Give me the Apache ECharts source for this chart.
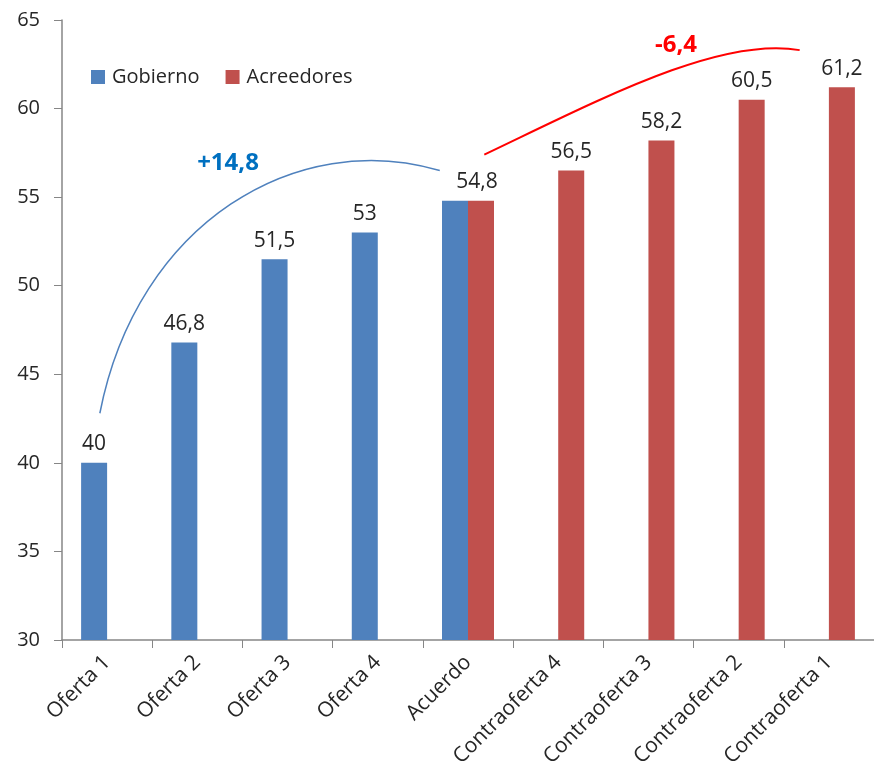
<!DOCTYPE html>
<html><head><meta charset="utf-8">
<script src="https://cdn.jsdelivr.net/npm/echarts@6/dist/echarts.min.js"></script>
<style>html,body{margin:0;padding:0;background:#fff}#c{width:874px;height:778px}</style>
</head><body><div id="c"></div>
<script>
const categories = ['Oferta 1','Oferta 2','Oferta 3','Oferta 4','Acuerdo','Contraoferta 4','Contraoferta 3','Contraoferta 2','Contraoferta 1'];
const gobierno = [40, 46.8, 51.5, 53, 54.8, null, null, null, null];
const acreedores = [null, null, null, null, 54.8, 56.5, 58.2, 60.5, 61.2];
const yTicks = {min: 30, max: 65, interval: 5};
const annotations = [
  {text: '+14,8', color: '#0070C0', cat: 1.33, val: 56.9},
  {text: '-6,4', color: '#FF0000', cat: 6.26, val: 63.6}
];

const FONT = '"Open Sans", sans-serif';
const chart = echarts.init(document.getElementById('c'));
const fmt = p => p.value == null ? '' : String(p.value).replace('.', ',');
const labelCfg = {show: true, position: 'top', distance: 8, formatter: fmt, fontSize: 21, color: '#262626', fontFamily: FONT};

chart.setOption({
  animation: false,
  backgroundColor: '#fff',
  grid: {left: 62, top: 20, width: 818, height: 620},
  legend: {
    left: 86, top: 62, itemWidth: 14, itemHeight: 14, itemGap: 26,
    icon: 'rect',
    textStyle: {fontSize: 20, color: '#262626', fontFamily: FONT, padding: [0, 0, 0, 2]},
    data: ['Gobierno', 'Acreedores']
  },
  xAxis: {
    type: 'category', data: categories,
    axisLine: {lineStyle: {color: '#868686', width: 1.5}},
    axisTick: {show: true, length: 8, lineStyle: {color: '#868686'}},
    axisLabel: {rotate: 45, fontSize: 21, color: '#262626', margin: 19, fontFamily: FONT, interval: 0}
  },
  yAxis: {
    type: 'value', min: yTicks.min, max: yTicks.max, interval: yTicks.interval,
    axisLine: {show: true, lineStyle: {color: '#868686', width: 1.5}},
    axisTick: {show: true, length: 8, inside: false, lineStyle: {color: '#868686'}},
    splitLine: {show: false},
    axisLabel: {fontSize: 20, color: '#262626', margin: 22, fontFamily: FONT}
  },
  series: [
    {name: 'Gobierno', type: 'bar', data: gobierno.map((v, i) => i === 4 ? {value: v, label: {show: false}} : v),
     barWidth: 26, barGap: '0%', itemStyle: {color: '#4F81BD'}, label: labelCfg},
    {name: 'Acreedores', type: 'bar', data: acreedores.map((v, i) => i === 4 ? {value: v, label: {offset: [-4, 0]}} : v),
     barWidth: 26, barGap: '0%', itemStyle: {color: '#C0504D'}, label: labelCfg}
  ]
});

// annotation arcs positioned through the axes (fractional category index, value)
const band = 818 / categories.length;
const x0 = chart.convertToPixel({xAxisIndex: 0}, categories[0]);
const cx = i => x0 + i * band;
const py = v => chart.convertToPixel({yAxisIndex: 0}, v);
const P = (i, v) => [cx(i), py(v)];
const b0 = P(-0.08, 42.8), b1 = P(0.33, 53.6), b2 = P(2.1, 58.9), b3 = P(3.66, 56.5);
const r0 = P(4.15, 57.4), r1 = P(5.42, 60.5), r2 = P(6.74, 64.1), r3 = P(7.62, 63.3);
chart.setOption({
  graphic: [
    {type: 'bezierCurve', silent: true, shape: {x1: b0[0], y1: b0[1], cpx1: b1[0], cpy1: b1[1], cpx2: b2[0], cpy2: b2[1], x2: b3[0], y2: b3[1]},
     style: {stroke: '#4F81BD', lineWidth: 1.5, fill: null}},
    {type: 'bezierCurve', silent: true, shape: {x1: r0[0], y1: r0[1], cpx1: r1[0], cpy1: r1[1], cpx2: r2[0], cpy2: r2[1], x2: r3[0], y2: r3[1]},
     style: {stroke: '#FF0000', lineWidth: 2, fill: null}},
    ...annotations.map(a => {
      const p = P(a.cat, a.val);
      return {type: 'text', silent: true, x: p[0], y: p[1],
        style: {text: a.text, fill: a.color, font: 'bold 24px ' + FONT, textAlign: 'center', textVerticalAlign: 'middle'}};
    })
  ]
});
</script></body></html>
